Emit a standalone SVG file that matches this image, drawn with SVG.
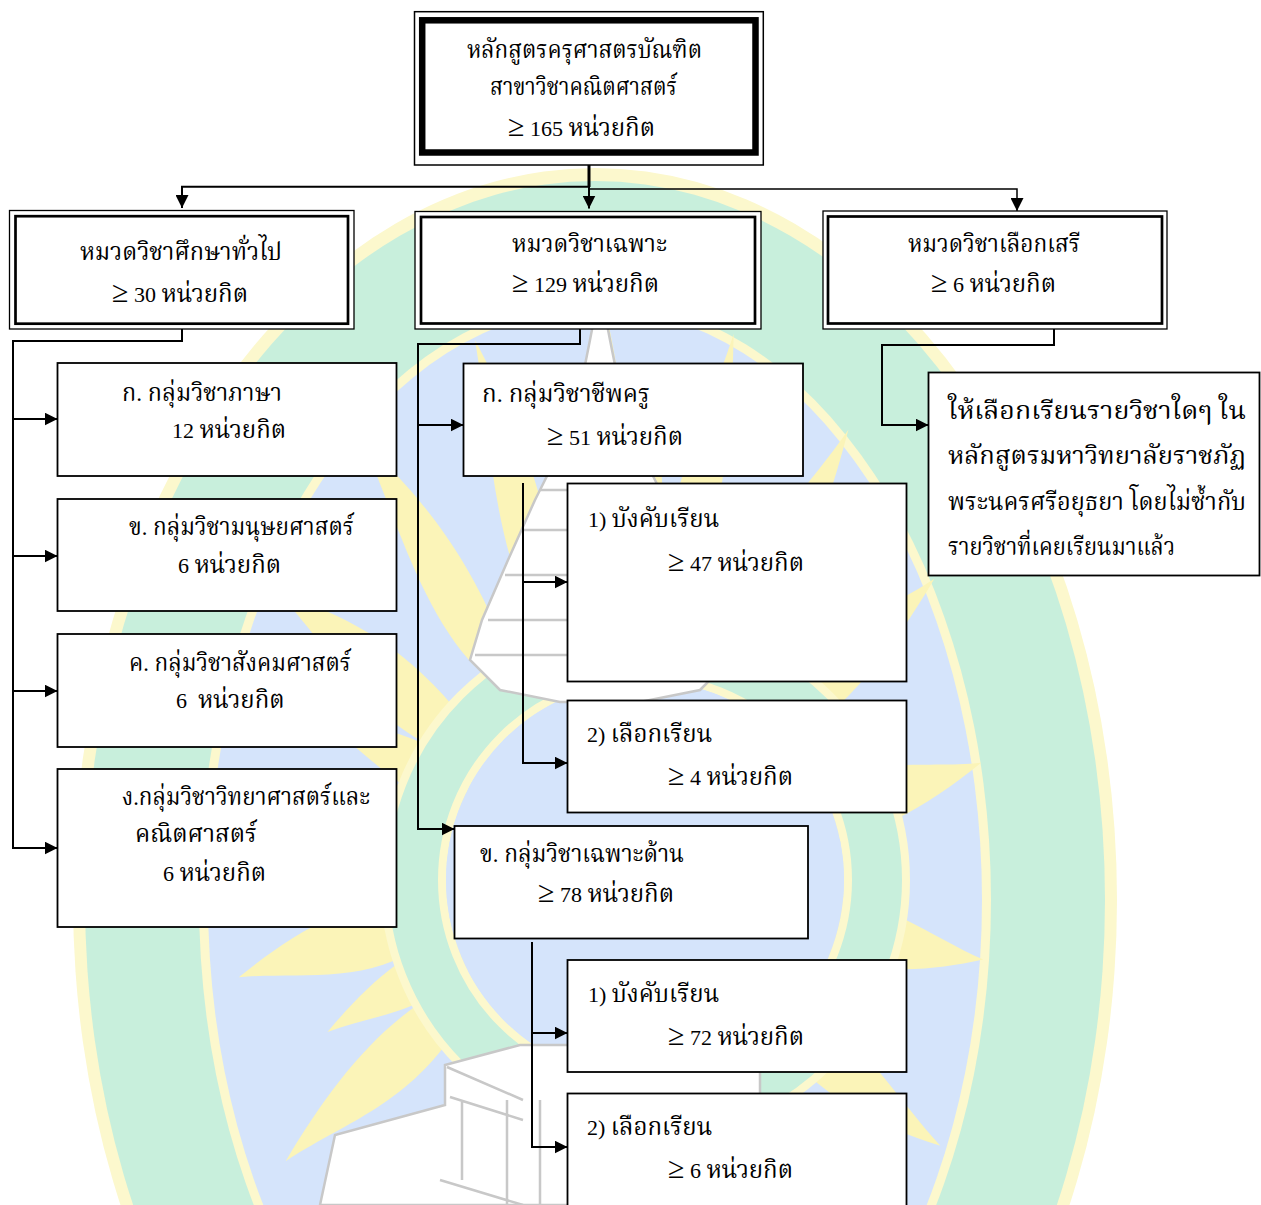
<svg xmlns="http://www.w3.org/2000/svg" width="1261" height="1205" viewBox="0 0 1261 1205">
<defs>
<style>
.t{font-family:"Liberation Serif","Noto Serif Thai","Noto Sans Thai","Garuda","Loma","Norasi","DejaVu Serif",serif;font-size:22px;fill:#000}
.th{font-size:24px}
.ge{font-family:"Liberation Serif",serif;font-size:30px}
.box{fill:#fff;stroke:#000;stroke-width:1.8}
.thin{fill:#fff;stroke:#000;stroke-width:1.3}
.mid{fill:none;stroke:#000;stroke-width:2.7}
.heavy{fill:none;stroke:#000;stroke-width:6.5}
.ln{fill:none;stroke:#000;stroke-width:2}
.ray{fill:#fbf4b8}
.pg{fill:#fff;stroke:#c8c8c8;stroke-width:2.5}
.pgl{fill:none;stroke:#c8c8c8;stroke-width:2.5}
</style>
<marker id="ah" markerUnits="userSpaceOnUse" markerWidth="13" markerHeight="13" refX="13" refY="6.5" orient="auto">
<path d="M0,0 L13,6.5 L0,13 z" fill="#000"/>
</marker>
<path id="flame" d="M-16,-190 C-34,-255 -12,-320 -6,-378 C14,-318 26,-258 16,-190 Z"/>
</defs>
<rect width="1261" height="1205" fill="#fff"/>
<g id="watermark">
<ellipse cx="595" cy="900" rx="522" ry="732" fill="#fcf8cd"/>
<ellipse cx="595" cy="900" rx="510" ry="719" fill="#c8efdc"/>
<ellipse cx="595" cy="900" rx="396" ry="601" fill="#fcf8cd"/>
<ellipse cx="595" cy="900" rx="387" ry="592" fill="#d5e4fb"/>
<g transform="translate(610,870) scale(1,1.5)">
<use href="#flame" class="ray" transform="rotate(0)"/>
<use href="#flame" class="ray" transform="rotate(20)"/>
<use href="#flame" class="ray" transform="rotate(40)"/>
<use href="#flame" class="ray" transform="rotate(60)"/>
<use href="#flame" class="ray" transform="rotate(80)"/>
<use href="#flame" class="ray" transform="rotate(100)"/>
<use href="#flame" class="ray" transform="rotate(120)"/>
<use href="#flame" class="ray" transform="rotate(140)"/>
<use href="#flame" class="ray" transform="rotate(160)"/>
<use href="#flame" class="ray" transform="rotate(180)"/>
<use href="#flame" class="ray" transform="rotate(200)"/>
<use href="#flame" class="ray" transform="rotate(220)"/>
<use href="#flame" class="ray" transform="rotate(240)"/>
<use href="#flame" class="ray" transform="rotate(260)"/>
<use href="#flame" class="ray" transform="rotate(280)"/>
<use href="#flame" class="ray" transform="rotate(300)"/>
<use href="#flame" class="ray" transform="rotate(320)"/>
<use href="#flame" class="ray" transform="rotate(340)"/>
<use href="#flame" class="ray" transform="rotate(10) scale(0.8)"/>
<use href="#flame" class="ray" transform="rotate(110) scale(0.8)"/>
<use href="#flame" class="ray" transform="rotate(250) scale(0.8)"/>
<use href="#flame" class="ray" transform="rotate(290) scale(0.8)"/>
</g>
<circle cx="645" cy="880" r="232" fill="none" stroke="#fcf8cd" stroke-width="66"/>
<circle cx="645" cy="880" r="232" fill="none" stroke="#c8efdc" stroke-width="50"/>
<circle cx="645" cy="880" r="199" fill="#d5e4fb"/>
<path class="pg" d="M600,288 L610,340 L622,400 L640,450 L665,500 L692,560 L718,620 L730,660 L700,690 L640,702 L560,702 L500,690 L470,660 L482,620 L508,560 L535,500 L560,450 L578,400 L590,340 Z"/>
<path class="pgl" d="M540,490 L660,490 M522,530 L678,530 M505,575 L695,575 M488,620 L712,620 M475,655 L725,655"/>
<path class="pg" d="M320,1205 L335,1135 L445,1105 L445,1065 L520,1045 L700,1045 L760,1065 L760,1205 Z"/>
<path class="pgl" d="M447,1067 L523,1100 M450,1097 L523,1120 M462,1100 L462,1180 M507,1100 L507,1205 M440,1180 L523,1205 M540,1100 L540,1205"/>
</g>
<g id="connectors">
<path d="M589,165 V187" fill="none" stroke="#000" stroke-width="3"/>
<path d="M589,186.7 H182 V208" class="ln" marker-end="url(#ah)"/>
<path d="M589,186 V208.5" class="ln" marker-end="url(#ah)"/>
<path d="M589,189 H1017 V211" fill="none" stroke="#000" stroke-width="1.5" marker-end="url(#ah)"/>
<path d="M182,329 V341 H13 V848 H57.5" class="ln" marker-end="url(#ah)"/>
<path d="M13,419 H57.5" class="ln" marker-end="url(#ah)"/>
<path d="M13,556 H57.5" class="ln" marker-end="url(#ah)"/>
<path d="M13,691 H57.5" class="ln" marker-end="url(#ah)"/>
<path d="M580,329 V344 H418 V829 H454.5" class="ln" marker-end="url(#ah)"/>
<path d="M418,425 H463.5" class="ln" marker-end="url(#ah)"/>
<path d="M523,483 V763 H567.5" class="ln" marker-end="url(#ah)"/>
<path d="M523,582 H567.5" class="ln" marker-end="url(#ah)"/>
<path d="M532,942 V1147 H567.5" class="ln" marker-end="url(#ah)"/>
<path d="M532,1033 H567.5" class="ln" marker-end="url(#ah)"/>
<path d="M1054,329 V345 H882 V425 H928.5" class="ln" marker-end="url(#ah)"/>
</g>
<g id="n-root">
<rect x="414.5" y="11.7" width="348.8" height="153.3" fill="#fff" stroke="#000" stroke-width="1.5"/>
<rect x="422.2" y="20.3" width="333.3" height="132.2" class="heavy"/>
<text class="t th" x="467" y="58" textLength="235" lengthAdjust="spacingAndGlyphs">หลักสูตรครุศาสตรบัณฑิต</text>
<text class="t th" x="490" y="95" textLength="187" lengthAdjust="spacingAndGlyphs">สาขาวิชาคณิตศาสตร์</text>
<text class="t" x="508" y="136"><tspan class="ge">≥</tspan> 165 <tspan class="th">หน่วยกิต</tspan></text>
</g>
<g id="n-general">
<rect x="9.5" y="210.5" width="344.5" height="118.5" class="thin"/>
<rect x="15.5" y="216.2" width="332.5" height="107.5" class="mid"/>
<text class="t th" x="80" y="260" textLength="202" lengthAdjust="spacingAndGlyphs">หมวดวิชาศึกษาทั่วไป</text>
<text class="t" x="112" y="302"><tspan class="ge">≥</tspan> 30 <tspan class="th">หน่วยกิต</tspan></text>
</g>
<g id="n-specific">
<rect x="415" y="211.5" width="346" height="117.5" class="thin"/>
<rect x="421" y="217" width="334" height="106.5" class="mid"/>
<text class="t th" x="512" y="252" textLength="155" lengthAdjust="spacingAndGlyphs">หมวดวิชาเฉพาะ</text>
<text class="t" x="512" y="292"><tspan class="ge">≥</tspan> 129 <tspan class="th">หน่วยกิต</tspan></text>
</g>
<g id="n-free">
<rect x="823" y="211" width="344" height="118" class="thin"/>
<rect x="828" y="216.5" width="334" height="107" class="mid"/>
<text class="t th" x="908" y="252" textLength="172" lengthAdjust="spacingAndGlyphs">หมวดวิชาเลือกเสรี</text>
<text class="t" x="931" y="292"><tspan class="ge">≥</tspan> 6 <tspan class="th">หน่วยกิต</tspan></text>
</g>
<g id="n-lang">
<rect x="57.5" y="363" width="339" height="113" class="box"/>
<text class="t th" x="122" y="401" textLength="160" lengthAdjust="spacingAndGlyphs">ก. กลุ่มวิชาภาษา</text>
<text class="t" x="172" y="438">12 <tspan class="th">หน่วยกิต</tspan></text>
</g>
<g id="n-human">
<rect x="57.5" y="499" width="339" height="112" class="box"/>
<text class="t th" x="129" y="535" textLength="225" lengthAdjust="spacingAndGlyphs">ข. กลุ่มวิชามนุษยศาสตร์</text>
<text class="t" x="178" y="573">6 <tspan class="th">หน่วยกิต</tspan></text>
</g>
<g id="n-social">
<rect x="57.5" y="634" width="339" height="113" class="box"/>
<text class="t th" x="129" y="671" textLength="222" lengthAdjust="spacingAndGlyphs">ค. กลุ่มวิชาสังคมศาสตร์</text>
<text class="t" x="176" y="708" xml:space="preserve">6  <tspan class="th">หน่วยกิต</tspan></text>
</g>
<g id="n-science">
<rect x="57.5" y="769" width="339" height="158" class="box"/>
<text class="t th" x="122" y="805" textLength="248" lengthAdjust="spacingAndGlyphs">ง.กลุ่มวิชาวิทยาศาสตร์และ</text>
<text class="t th" x="135" y="842" textLength="122" lengthAdjust="spacingAndGlyphs">คณิตศาสตร์</text>
<text class="t" x="163" y="881">6 <tspan class="th">หน่วยกิต</tspan></text>
</g>
<g id="n-teacher">
<rect x="463.5" y="363.5" width="339.5" height="112.5" class="box"/>
<text class="t th" x="482" y="402" textLength="168" lengthAdjust="spacingAndGlyphs">ก. กลุ่มวิชาชีพครู</text>
<text class="t" x="547" y="445"><tspan class="ge">≥</tspan> 51 <tspan class="th">หน่วยกิต</tspan></text>
</g>
<g id="n-teacher-req">
<rect x="567.5" y="483.5" width="339" height="198" class="box"/>
<text class="t" x="588" y="527">1) <tspan class="th">บังคับเรียน</tspan></text>
<text class="t" x="668" y="571"><tspan class="ge">≥</tspan> 47 <tspan class="th">หน่วยกิต</tspan></text>
</g>
<g id="n-teacher-elec">
<rect x="567.5" y="700.5" width="339" height="112" class="box"/>
<text class="t" x="587" y="742">2) <tspan class="th">เลือกเรียน</tspan></text>
<text class="t" x="668" y="785"><tspan class="ge">≥</tspan> 4 <tspan class="th">หน่วยกิต</tspan></text>
</g>
<g id="n-major">
<rect x="454.5" y="826" width="353.5" height="112.5" class="box"/>
<text class="t th" x="480" y="862" textLength="204" lengthAdjust="spacingAndGlyphs">ข. กลุ่มวิชาเฉพาะด้าน</text>
<text class="t" x="538" y="902"><tspan class="ge">≥</tspan> 78 <tspan class="th">หน่วยกิต</tspan></text>
</g>
<g id="n-major-req">
<rect x="567.5" y="960" width="339" height="112" class="box"/>
<text class="t" x="588" y="1002">1) <tspan class="th">บังคับเรียน</tspan></text>
<text class="t" x="668" y="1045"><tspan class="ge">≥</tspan> 72 <tspan class="th">หน่วยกิต</tspan></text>
</g>
<g id="n-major-elec">
<rect x="567.5" y="1093.5" width="339" height="130" class="box"/>
<text class="t" x="587" y="1135">2) <tspan class="th">เลือกเรียน</tspan></text>
<text class="t" x="668" y="1178"><tspan class="ge">≥</tspan> 6 <tspan class="th">หน่วยกิต</tspan></text>
</g>
<g id="n-free-note">
<rect x="928.5" y="372.5" width="331" height="203" class="box"/>
<text class="t th" x="948" y="419" textLength="298" lengthAdjust="spacingAndGlyphs">ให้เลือกเรียนรายวิชาใดๆ ใน</text>
<text class="t th" x="948" y="464" textLength="298" lengthAdjust="spacingAndGlyphs">หลักสูตรมหาวิทยาลัยราชภัฏ</text>
<text class="t th" x="948" y="510" textLength="298" lengthAdjust="spacingAndGlyphs">พระนครศรีอยุธยา โดยไม่ซ้ำกับ</text>
<text class="t th" x="948" y="555" textLength="227" lengthAdjust="spacingAndGlyphs">รายวิชาที่เคยเรียนมาแล้ว</text>
</g>
</svg>
